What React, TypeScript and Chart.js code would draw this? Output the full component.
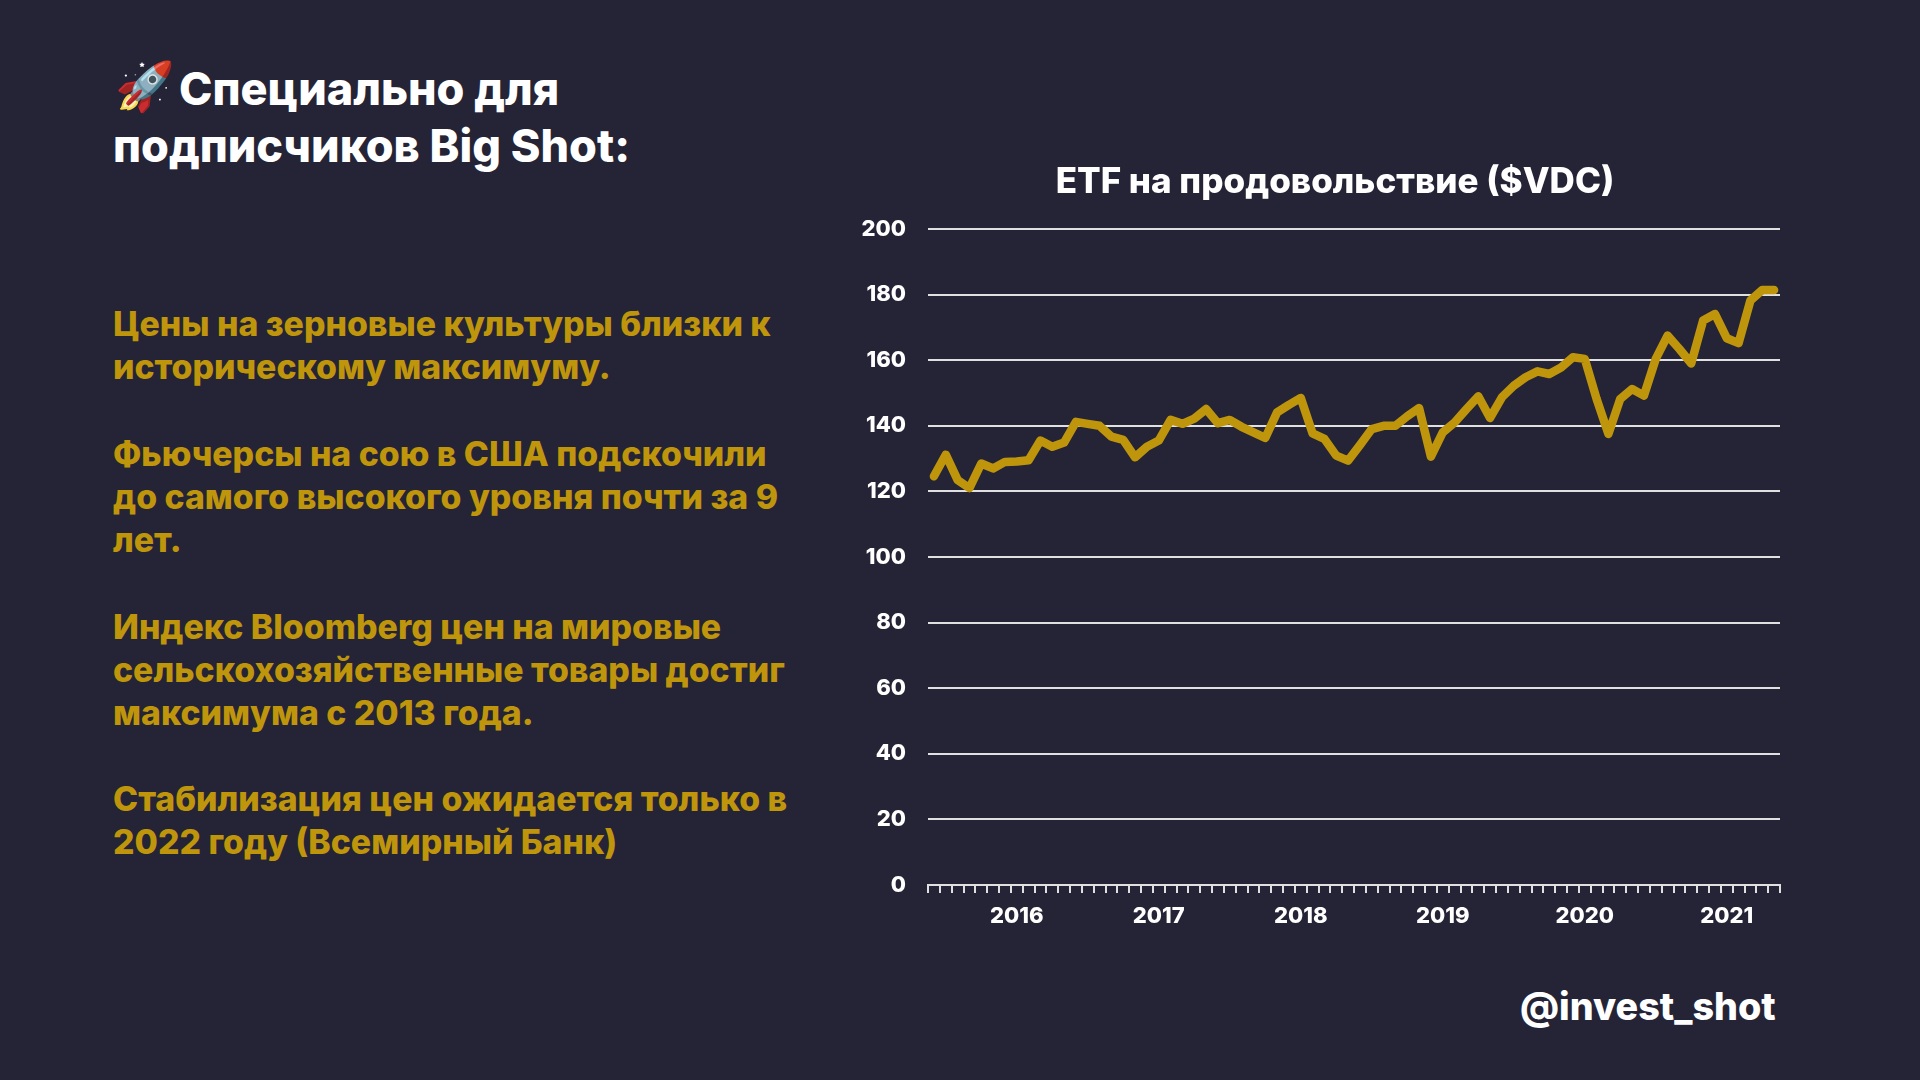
import React, { useEffect, useRef } from "react";
import { Chart, registerables } from "chart.js";

Chart.register(...registerables);

const categories = [
  "2015-06","2015-07","2015-08","2015-09","2015-10","2015-11","2015-12",
  "2016-01","2016-02","2016-03","2016-04","2016-05","2016-06","2016-07","2016-08","2016-09","2016-10","2016-11","2016-12",
  "2017-01","2017-02","2017-03","2017-04","2017-05","2017-06","2017-07","2017-08","2017-09","2017-10","2017-11","2017-12",
  "2018-01","2018-02","2018-03","2018-04","2018-05","2018-06","2018-07","2018-08","2018-09","2018-10","2018-11","2018-12",
  "2019-01","2019-02","2019-03","2019-04","2019-05","2019-06","2019-07","2019-08","2019-09","2019-10","2019-11","2019-12",
  "2020-01","2020-02","2020-03","2020-04","2020-05","2020-06","2020-07","2020-08","2020-09","2020-10","2020-11","2020-12",
  "2021-01","2021-02","2021-03","2021-04","2021-05",
];

const vdcPrices = [
  124.6,131.2,123.5,121,128.5,127,129,
  129.1,129.5,135.5,133.6,134.9,141.2,140.6,140,136.7,135.7,130.4,133.6,135.5,
  141.8,140.6,142.2,145.1,140.8,141.8,139.7,138,136.3,144.1,146.4,148.5,
  137.7,136,130.9,129.4,134.1,139,140,140,142.9,145.4,130.6,138,
  141,145.1,149,142.4,148.7,152.2,154.8,156.6,155.8,157.8,160.9,160.4,
  148.2,137.5,148.2,151.2,149.2,160.4,167.5,163.4,159,172.1,174.1,166.7,
  165.2,178.2,181.4,181.4,
];

const chartTitle = "ETF на продовольствие ($VDC)";
const headingLines = ["Специально для", "подписчиков Big Shot:"];
const paragraphs = [
  ["Цены на зерновые культуры близки к", "историческому максимуму."],
  ["Фьючерсы на сою в США подскочили", "до самого высокого уровня почти за 9", "лет."],
  ["Индекс Bloomberg цен на мировые", "сельскохозяйственные товары достиг", "максимума с 2013 года."],
  ["Стабилизация цен ожидается только в", "2022 году (Всемирный Банк)"],
];
const handle = "@invest_shot";

const BG = "#252437";
const GOLD = "#BF950C";
const FONT = "Inter, 'Noto Sans', sans-serif";

export default function App() {
  const ref = useRef<HTMLCanvasElement>(null);
  useEffect(() => {
    if (document.body) {
      document.body.style.margin = "0";
      document.body.style.background = BG;
    }
    const chart = new Chart(ref.current!, {
      type: "line",
      data: {
        labels: categories,
        datasets: [{
          data: vdcPrices,
          borderColor: GOLD,
          borderWidth: 8.5,
          pointRadius: 0,
          tension: 0,
          borderCapStyle: "round",
          borderJoinStyle: "round",
        }],
      },
      options: {
        responsive: false,
        animation: false,
        plugins: {
          legend: { display: false },
          tooltip: { enabled: false },
          title: {
            display: true,
            text: chartTitle,
            color: "#ffffff",
            font: { family: FONT, size: 35, weight: "800" },
            padding: { top: 10, bottom: 26 },
          },
        },
        scales: {
          x: {
            type: "category",
            offset: true,
            afterFit: (s: any) => { s.height = 66; },
            grid: { offset: true, drawOnChartArea: false, drawTicks: true, tickLength: 8, color: "#e0e0e0", lineWidth: 2 },
            border: { display: true, color: "#e0e0e0", width: 2 },
            ticks: {
              autoSkip: false,
              maxRotation: 0,
              minRotation: 0,
              padding: 10,
              color: "#ffffff",
              font: { family: FONT, size: 22, weight: "800" },
              callback: (_v: any, i: number) => categories[i].endsWith("-01") ? categories[i].slice(0, 4) : "",
            },
          },
          y: {
            min: 0,
            max: 200,
            afterFit: (s: any) => { s.width = 78; },
            grid: { drawTicks: false, color: "#e0e0e0", lineWidth: 2 },
            border: { display: false },
            ticks: {
              stepSize: 20,
              padding: 22,
              color: "#ffffff",
              font: { family: FONT, size: 22, weight: "800" },
            },
          },
          gutter: {
            position: "right",
            min: 0,
            max: 200,
            afterFit: (s: any) => { s.width = 40; },
            grid: { display: false },
            border: { display: false },
            ticks: { display: false },
          },
        },
      },
    });
    return () => chart.destroy();
  }, []);

  const line = (t: string, top: number, left: number, size: number, color: string, key: string) => (
    <div key={key} style={{ position: "absolute", left, top, fontFamily: FONT, fontWeight: 800, fontSize: size, lineHeight: "50px", color, whiteSpace: "pre" }}>{t}</div>
  );

  const paraTops = [[299, 342], [429, 472, 515], [602, 645, 688], [774, 817]];

  return (
    <div style={{ position: "relative", width: 1920, height: 1080, background: BG, overflow: "hidden" }}>
      <div style={{ position: "absolute", left: 115, top: 57, fontSize: 48, lineHeight: "60px", fontFamily: "'Noto Color Emoji', sans-serif" }}>🚀</div>
      {line(headingLines[0], 64, 179, 45, "#ffffff", "h0")}
      {line(headingLines[1], 121, 113, 45, "#ffffff", "h1")}
      {paragraphs.map((p, i) => p.map((t, j) => line(t, paraTops[i][j], 113, 33.8, GOLD, `p${i}${j}`)))}
      {line(handle, 981, 1520, 37.7, "#ffffff", "handle")}
      <canvas ref={ref} width={970} height={800} style={{ position: "absolute", left: 850, top: 151, display: "block" }} />
    </div>
  );
}
